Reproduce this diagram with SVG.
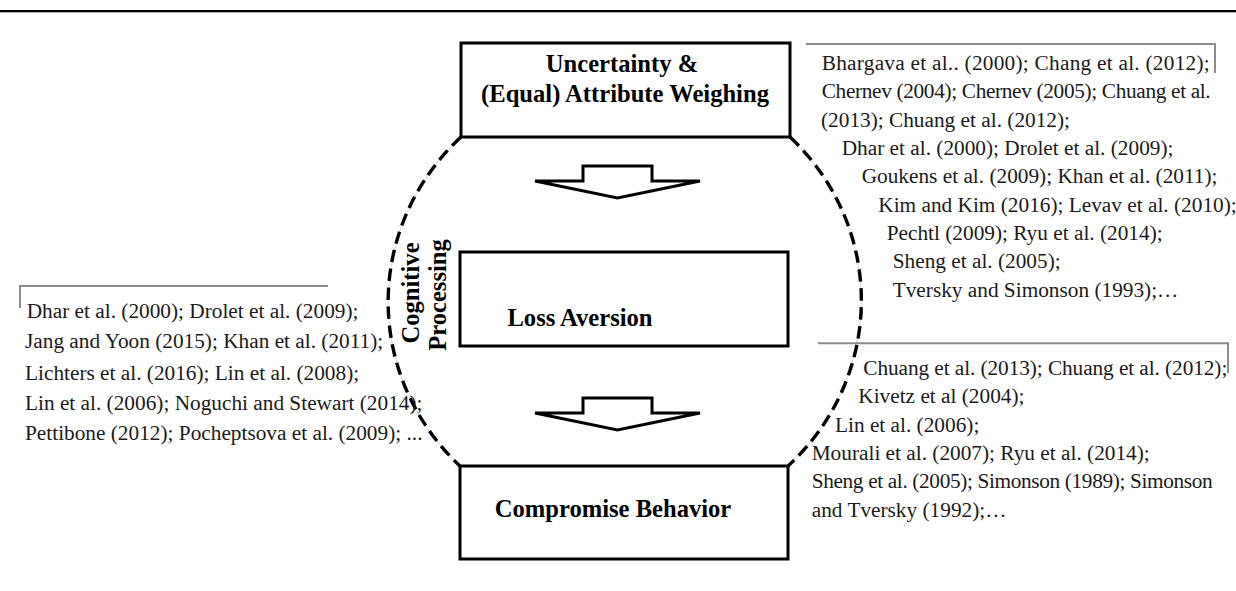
<svg xmlns="http://www.w3.org/2000/svg" width="1236" height="591" viewBox="0 0 1236 591">
  <style>
    .box { fill: #ffffff; stroke: #000000; stroke-width: 3; }
    .title { font-family: "Liberation Serif", "Times New Roman", serif; font-weight: bold; font-size: 24.6px; fill: #000000; }
    .cite { font-family: "Liberation Serif", "Times New Roman", serif; font-size: 21.3px; fill: #1a1a1a; }
    .bracket { fill: none; stroke: #8c8c8c; stroke-width: 2; }
    .arc-base { fill: none; stroke: #d0d0d0; stroke-width: 0.8; }
    .arc-dash { fill: none; stroke: #000000; stroke-width: 3.4; stroke-dasharray: 12.5 6.5; }
    .flow { fill: #ffffff; stroke: #000000; stroke-width: 3; stroke-linejoin: miter; }
  </style>

  <rect width="1236" height="591" fill="#ffffff"/>
  <!-- page rule -->
  <rect x="0" y="10" width="1236" height="2.3" fill="#000000"/>

  <!-- cognitive processing ring and flow arrows -->
  <g id="connectors">
    <path class="arc-base" d="M461,137 A236.5,228.5 0 0 0 460,466"/>
    <path class="arc-dash" d="M461,137 A236.5,228.5 0 0 0 460,466"/>
    <path class="arc-base" d="M790,137 A236.5,228.5 0 0 1 788,466"/>
    <path class="arc-dash" d="M790,137 A236.5,228.5 0 0 1 788,466"/>
    <polygon class="flow" points="583,166 652,166 652,181 700,181 617.5,198 535,181 583,181"/>
    <polygon class="flow" points="583,398 652,398 652,413 700,413 617.5,430 535,413 583,413"/>
  </g>

  <g id="node-uncertainty">
    <rect class="box" x="461" y="43" width="329" height="94"/>
    <text class="title" x="622" y="72" text-anchor="middle">Uncertainty &amp;</text>
    <text class="title" x="625" y="102" text-anchor="middle">(Equal) Attribute Weighing</text>
  </g>

  <g id="node-loss-aversion">
    <rect class="box" x="460" y="252" width="328" height="94"/>
    <text class="title" x="580" y="326" text-anchor="middle">Loss Aversion</text>
  </g>

  <g id="node-compromise">
    <rect class="box" x="460" y="466" width="328" height="93"/>
    <text class="title" x="613" y="517" text-anchor="middle">Compromise Behavior</text>
  </g>

  <g id="label-cognitive">
    <text class="title" transform="translate(419,293) rotate(-90)" text-anchor="middle">Cognitive</text>
    <text class="title" transform="translate(446,295) rotate(-90)" text-anchor="middle">Processing</text>
  </g>

  <g id="refs-uncertainty">
    <path class="bracket" d="M806,44 H1215 V73"/>
    <text class="cite" x="821.7" y="70" textLength="388" lengthAdjust="spacing">Bhargava et al.. (2000); Chang et al. (2012);</text>
    <text class="cite" x="821.7" y="98.3" textLength="389" lengthAdjust="spacing">Chernev (2004); Chernev (2005); Chuang et al.</text>
    <text class="cite" x="821" y="126.7">(2013); Chuang et al. (2012);</text>
    <text class="cite" x="841.7" y="155">Dhar et al. (2000); Drolet et al. (2009);</text>
    <text class="cite" x="861.7" y="183.3">Goukens et al. (2009); Khan et al. (2011);</text>
    <text class="cite" x="878.3" y="211.7">Kim and Kim (2016); Levav et al. (2010);</text>
    <text class="cite" x="886.7" y="240">Pechtl (2009); Ryu et al. (2014);</text>
    <text class="cite" x="892.7" y="268.3">Sheng et al. (2005);</text>
    <text class="cite" x="892.7" y="296.7">Tversky  and Simonson (1993);…</text>
  </g>

  <g id="refs-loss-aversion">
    <path class="bracket" d="M328,286 H20 V308"/>
    <text class="cite" x="26.7" y="318.3">Dhar et al. (2000);  Drolet et al. (2009);</text>
    <text class="cite" x="25" y="348.3">Jang and Yoon (2015); Khan et al. (2011);</text>
    <text class="cite" x="25" y="380">Lichters et al. (2016);  Lin et al. (2008);</text>
    <text class="cite" x="25" y="410">Lin et al. (2006); Noguchi and Stewart (2014);</text>
    <text class="cite" x="25" y="440">Pettibone (2012); Pocheptsova et al. (2009); ...</text>
  </g>

  <g id="refs-compromise">
    <path class="bracket" d="M818,343.3 H1228 V373"/>
    <text class="cite" x="863.3" y="375" textLength="364" lengthAdjust="spacing">Chuang et al. (2013);  Chuang et al. (2012);</text>
    <text class="cite" x="858.3" y="403.3">Kivetz et al (2004);</text>
    <text class="cite" x="835" y="431.7">Lin et al. (2006);</text>
    <text class="cite" x="811.7" y="460">Mourali et al. (2007); Ryu et al. (2014);</text>
    <text class="cite" x="811.7" y="488.3" textLength="401" lengthAdjust="spacing">Sheng et al. (2005); Simonson (1989); Simonson</text>
    <text class="cite" x="811.7" y="516.7">and Tversky  (1992);…</text>
  </g>
</svg>
